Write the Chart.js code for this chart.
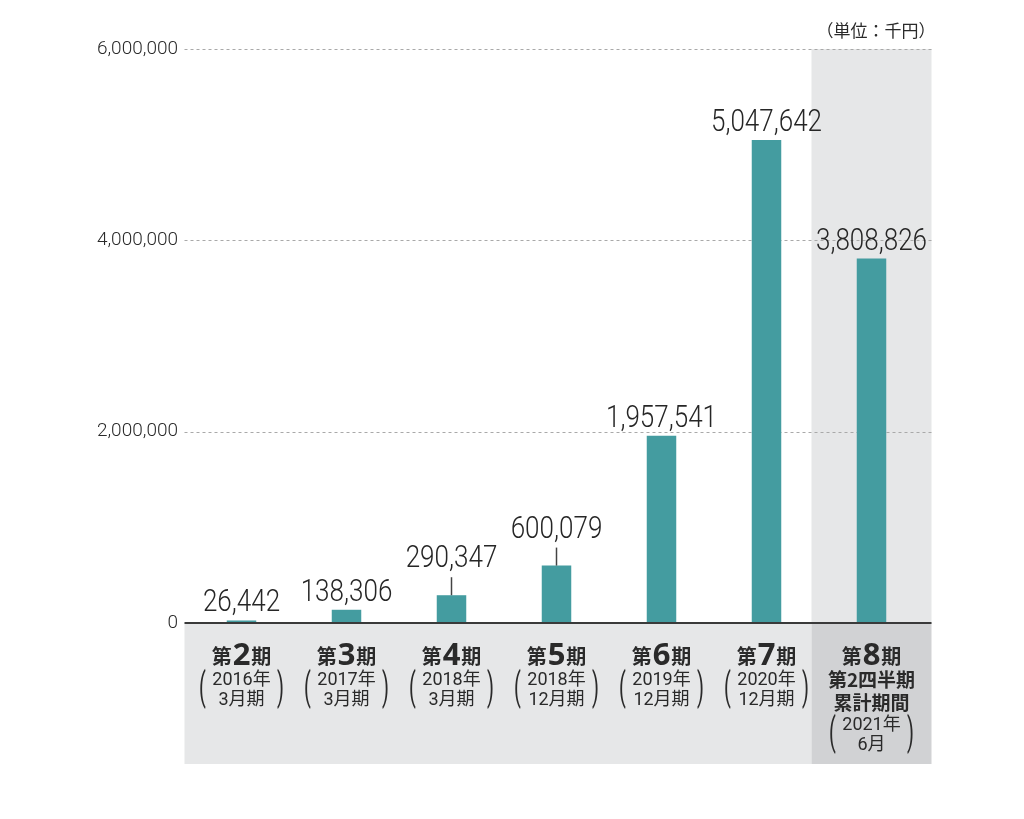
<!DOCTYPE html>
<html lang="ja">
<head>
<meta charset="utf-8">
<script src="https://cdn.jsdelivr.net/npm/chart.js@4"></script>
<style>
  html, body { margin: 0; padding: 0; background: #fff; }
</style>
</head>
<body>
<canvas id="chart" width="1024" height="819"></canvas>
<script>
// 売上高（単位：千円）
const categories = ['第2期', '第3期', '第4期', '第5期', '第6期', '第7期', '第8期'];
const noteLines = [[], [], [], [], [], [], ['第2四半期', '累計期間']];
const dateLines = [
  ['2016年', '3月期'],
  ['2017年', '3月期'],
  ['2018年', '3月期'],
  ['2018年', '12月期'],
  ['2019年', '12月期'],
  ['2020年', '12月期'],
  ['2021年', '6月']
];
const sales = [26442, 138306, 290347, 600079, 1957541, 5047642, 3808826];
const yTicks = [0, 2000000, 4000000, 6000000];
const unitLabel = '（単位：千円）';

const fmt = v => v.toLocaleString('en-US');
const CJK = '"Noto Sans CJK JP", "Noto Sans", sans-serif';

const decor = {
  id: 'decor',
  beforeDatasetsDraw(chart) {
    const { ctx, chartArea, scales: { x, y } } = chart;
    const left = chartArea.left - 4.5;
    const lastX = x.getPixelForValue(categories.length - 1);
    const colL = lastX - 60, colR = lastX + 60;
    const y0 = y.getPixelForValue(0);
    const yTop = y.getPixelForValue(yTicks[yTicks.length - 1]);
    const bottom = y0 + 141;
    ctx.save();
    ctx.fillStyle = '#e6e7e8';
    ctx.fillRect(left, y0, colL - left, bottom - y0);
    ctx.fillRect(colL, yTop, colR - colL, y0 - yTop);
    ctx.fillStyle = '#d1d2d4';
    ctx.fillRect(colL, y0, colR - colL, bottom - y0);

    ctx.strokeStyle = '#a9a9a9';
    ctx.lineWidth = 1;
    ctx.setLineDash([3, 3]);
    yTicks.slice(1).forEach(function (v) {
      const py = Math.round(y.getPixelForValue(v)) + 0.5;
      ctx.beginPath();
      ctx.moveTo(left, py);
      ctx.lineTo(colR, py);
      ctx.stroke();
    });
    ctx.restore();
  },
  afterDatasetsDraw(chart, args, opts) {
    const { ctx, chartArea, scales: { x, y } } = chart;
    const lastX = x.getPixelForValue(categories.length - 1);
    const y0 = y.getPixelForValue(0);
    ctx.save();
    // zero axis
    ctx.strokeStyle = '#3a3a3a';
    ctx.lineWidth = 2;
    ctx.beginPath();
    ctx.moveTo(chartArea.left - 4.5, y0);
    ctx.lineTo(lastX + 60, y0);
    ctx.stroke();

    // value labels
    const meta = chart.getDatasetMeta(0);
    meta.data.forEach(function (bar, i) {
      const lift = opts.lifted.includes(i) ? 19 : 0;
      const base = bar.y - 9 - lift;
      ctx.save();
      ctx.translate(bar.x, base);
      ctx.scale(0.84, 1);
      ctx.fillStyle = '#262626';
      ctx.font = '300 31px Roboto, "Open Sans", sans-serif';
      ctx.textAlign = 'center';
      ctx.textBaseline = 'alphabetic';
      ctx.fillText(fmt(sales[i]), 0, 0);
      ctx.restore();
      if (lift) {
        ctx.strokeStyle = '#444';
        ctx.lineWidth = 1.5;
        ctx.beginPath();
        ctx.moveTo(bar.x, bar.y);
        ctx.lineTo(bar.x, base + 10);
        ctx.stroke();
      }
    });
    ctx.restore();
  },
  afterDraw(chart) {
    const { ctx, scales: { x, y } } = chart;
    const y0 = y.getPixelForValue(0);
    const lastX = x.getPixelForValue(categories.length - 1);
    ctx.save();
    ctx.fillStyle = '#2a2a2a';

    // unit label
    ctx.font = '17px ' + CJK;
    ctx.textAlign = 'right';
    ctx.textBaseline = 'middle';
    ctx.fillText(unitLabel, lastX + 64, 31);

    categories.forEach(function (cat, i) {
      const cx = x.getPixelForValue(i);
      const m = cat.match(/^(第)(\d+)(期)$/);
      const kFont = 'bold 20px ' + CJK;
      const dFont = 'bold 31px "Noto Sans", sans-serif';
      ctx.textAlign = 'left';
      ctx.textBaseline = 'alphabetic';
      ctx.font = kFont;
      const w1 = ctx.measureText(m[1]).width;
      const w3 = ctx.measureText(m[3]).width;
      ctx.font = dFont;
      const w2 = ctx.measureText(m[2]).width;
      let sx = cx - (w1 + w2 + w3 + 2) / 2;
      const base = y0 + 41;
      ctx.font = kFont;
      ctx.fillText(m[1], sx, base);
      sx += w1 + 1;
      ctx.font = dFont;
      ctx.fillText(m[2], sx, base + 1);
      sx += w2 + 1;
      ctx.font = kFont;
      ctx.fillText(m[3], sx, base);

      ctx.textAlign = 'center';
      ctx.textBaseline = 'middle';
      let ly = y0 + 57;
      noteLines[i].forEach(function (t) {
        ctx.font = 'bold 19px ' + CJK;
        ctx.fillText(t, cx, ly);
        ly += 23;
      });
      if (noteLines[i].length) ly -= 1;
      const first = ly;
      ctx.font = '18px Roboto, ' + CJK;
      dateLines[i].forEach(function (t) {
        ctx.fillText(t, cx, ly);
        ly += 20;
      });
      const last = ly - 20;
      const mid = (first + last) / 2;
      [[-39, '('], [39, ')']].forEach(function (p) {
        ctx.save();
        ctx.translate(cx + p[0], mid);
        ctx.scale(1, 1.9);
        ctx.font = '400 20px Roboto, sans-serif';
        ctx.fillText(p[1], 0, 0);
        ctx.restore();
      });
    });
    ctx.restore();
  }
};

const ctx = document.getElementById('chart').getContext('2d');
const chart = new Chart(ctx, {
  type: 'bar',
  data: {
    labels: categories,
    datasets: [{
      data: sales,
      backgroundColor: '#449ca0',
      borderWidth: 0,
      barPercentage: 0.281,
      categoryPercentage: 1.0
    }]
  },
  options: {
    responsive: false,
    animation: false,
    devicePixelRatio: 1,
    layout: { padding: { top: 49, right: 100, bottom: 196, left: 0 } },
    plugins: {
      legend: { display: false },
      tooltip: { enabled: false },
      decor: { lifted: [2, 3] }
    },
    scales: {
      x: { display: false },
      y: {
        min: 0,
        max: 6000000,
        afterFit: function (scale) { scale.width = 189; },
        afterBuildTicks: function (scale) {
          scale.ticks = yTicks.map(v => ({ value: v }));
        },
        grid: { display: false, drawTicks: false },
        border: { display: false },
        ticks: {
          padding: 11,
          color: '#2a2a2a',
          font: { family: 'Roboto', size: 19, weight: '300' },
          callback: v => fmt(v)
        }
      }
    }
  },
  plugins: [decor]
});
</script>
</body>
</html>
